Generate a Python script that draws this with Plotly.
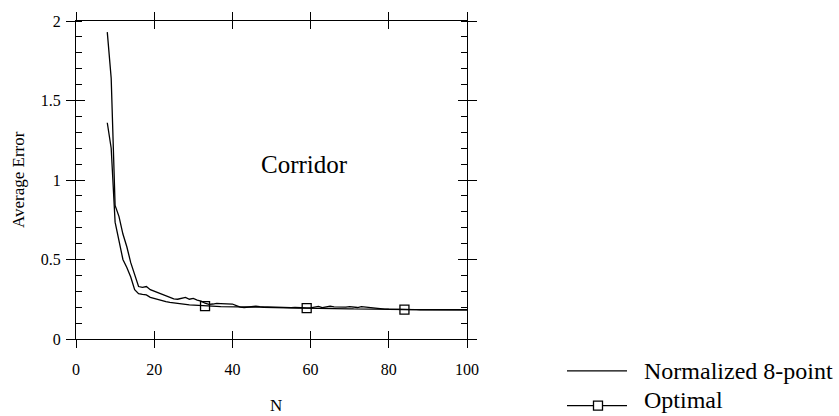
import plotly.graph_objects as go

# ---- data ----
N = list(range(8, 101))

normalized_8pt = [
    1.93, 1.64, 0.84, 0.77, 0.66, 0.58, 0.48, 0.40, 0.33, 0.325,   # 8-17
    0.33, 0.31, 0.30, 0.29, 0.28, 0.27, 0.26, 0.252, 0.25, 0.258,   # 18-27
    0.262, 0.25, 0.255, 0.245, 0.238, 0.225, 0.218, 0.22, 0.224, 0.223,  # 28-37
    0.222, 0.224, 0.22, 0.21, 0.20, 0.198, 0.20, 0.205, 0.206, 0.204,   # 38-47
    0.203, 0.20, 0.20, 0.199, 0.198, 0.20, 0.198, 0.197, 0.198, 0.196,  # 48-57
    0.195, 0.196, 0.196, 0.20, 0.205, 0.198, 0.20, 0.206, 0.202, 0.20,  # 58-67
    0.198, 0.20, 0.204, 0.199, 0.198, 0.203, 0.20, 0.197, 0.195, 0.194, # 68-77
    0.19, 0.188, 0.187, 0.186, 0.186, 0.186, 0.186, 0.185, 0.185, 0.185,  # 78-87
    0.185, 0.185, 0.185, 0.185, 0.185, 0.185, 0.185, 0.184, 0.184, 0.184,  # 88-97
    0.184, 0.184, 0.184,  # 98-100
]

optimal = [
    1.36, 1.20, 0.735, 0.62, 0.50, 0.45, 0.39, 0.31, 0.285, 0.28,   # 8-17
    0.277, 0.262, 0.255, 0.245, 0.24, 0.235, 0.23, 0.226, 0.222, 0.22,  # 18-27
    0.218, 0.215, 0.213, 0.211, 0.209, 0.207, 0.206, 0.205, 0.205, 0.204,  # 28-37
    0.204, 0.203, 0.203, 0.202, 0.202, 0.201, 0.201, 0.20, 0.20, 0.20,  # 38-47
    0.199, 0.199, 0.198, 0.198, 0.197, 0.197, 0.196, 0.196, 0.195, 0.195,  # 48-57
    0.194, 0.194, 0.194, 0.193, 0.193, 0.192, 0.192, 0.192, 0.191, 0.191,  # 58-67
    0.190, 0.190, 0.190, 0.189, 0.189, 0.189, 0.188, 0.188, 0.188, 0.187,  # 68-77
    0.187, 0.187, 0.186, 0.186, 0.186, 0.185, 0.185, 0.185, 0.185, 0.185,  # 78-87
    0.184, 0.184, 0.184, 0.184, 0.184, 0.184, 0.184, 0.184, 0.184, 0.184,  # 88-97
    0.184, 0.184, 0.184,  # 98-100
]

optimal_marker_N = [33, 59, 84]

x_ticks = [0, 20, 40, 60, 80, 100]
y_ticks = [0, 0.5, 1, 1.5, 2]
y_tick_labels = ["0", "0.5", "1", "1.5", "2"]

series_names = ["Normalized 8-point", "Optimal"]
panel_label = "Corridor"
x_title = "N"
y_title = "Average Error"

# ---- layout geometry (pixels) ----
W, H = 839, 416
L, R, T, B = 76, 467, 19, 339      # plot area edges
pw, ph = R - L, B - T

def px(x):  # pixel x -> paper
    return (x - L) / pw

def py(y):  # pixel y -> paper
    return (B - y) / ph

FONT = "Liberation Serif, Times New Roman, serif"
LW = 1.3

fig = go.Figure()

fig.add_trace(go.Scatter(x=N, y=normalized_8pt, mode="lines",
                         line=dict(color="black", width=LW),
                         name=series_names[0], showlegend=False))
fig.add_trace(go.Scatter(x=N, y=optimal, mode="lines",
                         line=dict(color="black", width=LW),
                         name=series_names[1], showlegend=False))
mk_y = [optimal[N.index(n)] for n in optimal_marker_N]
fig.add_trace(go.Scatter(x=optimal_marker_N, y=mk_y, mode="markers",
                         marker=dict(symbol="square-open", size=9, color="black",
                                     line=dict(width=1.3, color="black")),
                         showlegend=False, hoverinfo="skip"))
# helper trace for overlay axes (inside half of crossing ticks)
fig.add_trace(go.Scatter(x=[None], y=[None], xaxis="x2", yaxis="y2",
                         showlegend=False, hoverinfo="skip"))

axis_common = dict(showline=True, linecolor="black", linewidth=LW,
                   showgrid=False, zeroline=False, tickcolor="black",
                   tickwidth=LW, mirror="ticks")

fig.update_layout(
    width=W, height=H,
    margin=dict(l=L, r=W - R, t=T, b=H - B),
    paper_bgcolor="white", plot_bgcolor="white",
    font=dict(family=FONT, color="black", size=16),
    xaxis=dict(range=[0, 100], tickvals=x_ticks, ticks="outside", ticklen=8,
               tickfont=dict(size=16), ticklabelstandoff=8,
               **axis_common),
    yaxis=dict(range=[0, 2], tickvals=y_ticks, ticktext=y_tick_labels,
               ticks="outside", ticklen=9, tickfont=dict(size=16),
               ticklabelstandoff=2,
               minor=dict(dtick=0.1, ticks="inside", ticklen=6,
                          tickcolor="black", tickwidth=LW),
               **axis_common),
    xaxis2=dict(range=[0, 100], tickvals=x_ticks, ticks="inside", ticklen=8,
                showticklabels=False, overlaying="x", **axis_common),
    yaxis2=dict(range=[0, 2], tickvals=y_ticks, ticks="inside", ticklen=9,
                showticklabels=False, overlaying="y", **axis_common),
    showlegend=False,
)

# axis titles
fig.add_annotation(x=px(275.5), y=py(406), xref="paper", yref="paper",
                   text=x_title, showarrow=False, xanchor="center",
                   yanchor="middle", font=dict(size=17, family=FONT))
fig.add_annotation(x=px(18), y=0.5, xref="paper", yref="paper",
                   text=y_title, showarrow=False, textangle=-90,
                   xanchor="center", yanchor="middle",
                   font=dict(size=17, family=FONT))

# "Corridor" label
fig.add_annotation(x=58.5, y=1.10, xref="x", yref="y", text=panel_label,
                   showarrow=False, font=dict(size=25, family=FONT))

# manual legend (outside plot area, right)
rows = [371, 406]
fig.add_annotation(x=px(642), y=py(rows[0]), xref="paper", yref="paper",
                   text=series_names[0], showarrow=False, xanchor="left",
                   yanchor="middle", font=dict(size=24, family=FONT))
fig.add_annotation(x=px(642), y=py(415), xref="paper", yref="paper",
                   text=series_names[1], showarrow=False, xanchor="left",
                   yanchor="bottom", font=dict(size=24, family=FONT))
for ry in rows:
    fig.add_shape(type="line", xref="paper", yref="paper",
                  x0=px(567), x1=px(627), y0=py(ry), y1=py(ry),
                  line=dict(color="black", width=LW))
fig.add_shape(type="rect", xref="paper", yref="paper",
              x0=px(593.5), x1=px(602.5), y0=py(rows[1] - 4.5), y1=py(rows[1] + 4.5),
              line=dict(color="black", width=1.3), fillcolor="white")

fig.write_html("out.html",
               config={"displayModeBar": False},
               post_script="document.body.style.margin='0px';"
                           "document.body.style.overflow='hidden';")
